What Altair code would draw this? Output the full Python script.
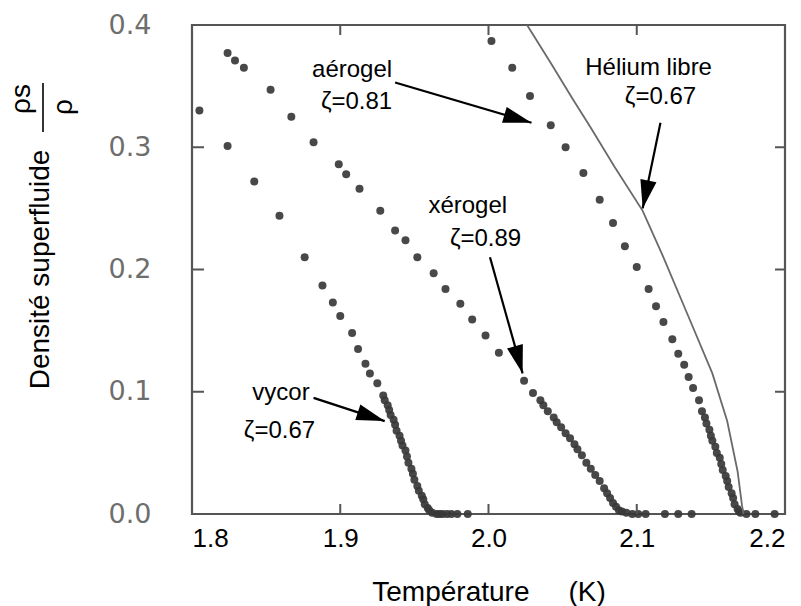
import math
import altair as alt
import pandas as pd

W, H = 593, 489
FONT = "Liberation Sans"

# ---------------- data ----------------
vycor_T = [1.805, 1.824, 1.842, 1.859, 1.876, 1.888, 1.895, 1.900, 1.908, 1.912, 1.917, 1.920, 1.925, 1.929,
           1.930, 1.932, 1.933, 1.934, 1.936, 1.937, 1.938, 1.940, 1.941, 1.942, 1.944, 1.945, 1.946, 1.948,
           1.949, 1.950, 1.952, 1.953, 1.955, 1.956, 1.957, 1.959, 1.960, 1.962,
           1.965, 1.967, 1.969, 1.972, 1.975, 1.979, 1.986]
vycor_rho = [0.330, 0.301, 0.272, 0.244, 0.210, 0.187, 0.173, 0.162, 0.148, 0.135, 0.123, 0.115, 0.107, 0.097,
             0.093, 0.089, 0.085, 0.081, 0.077, 0.073, 0.068, 0.064, 0.060, 0.056, 0.052, 0.047, 0.042, 0.037,
             0.033, 0.028, 0.023, 0.019, 0.015, 0.012, 0.008, 0.005, 0.003, 0.001,
             0.0, 0.0, 0.0, 0.0, 0.0, 0.0, 0.0]

xerogel_T = [1.824, 1.829, 1.835, 1.853, 1.867, 1.882, 1.899, 1.904, 1.913, 1.927, 1.937, 1.944, 1.952, 1.963,
             1.971, 1.981, 1.989, 1.998, 2.007, 2.024, 2.030, 2.035,
             2.037, 2.040, 2.044, 2.046, 2.049, 2.052, 2.055, 2.058, 2.060, 2.063, 2.066, 2.069, 2.072, 2.075,
             2.078, 2.080, 2.082, 2.084, 2.086, 2.088, 2.090, 2.093,
             2.097, 2.101, 2.106, 2.119, 2.128, 2.137]
xerogel_rho = [0.377, 0.371, 0.365, 0.347, 0.325, 0.304, 0.286, 0.278, 0.266, 0.248, 0.232, 0.224, 0.210, 0.197,
               0.184, 0.172, 0.159, 0.146, 0.132, 0.109, 0.099, 0.093,
               0.089, 0.084, 0.079, 0.075, 0.071, 0.066, 0.062, 0.057, 0.053, 0.048, 0.042, 0.037, 0.032, 0.027,
               0.021, 0.017, 0.013, 0.009, 0.006, 0.003, 0.002, 0.001,
               0.0, 0.0, 0.0, 0.0, 0.0, 0.0]

aerogel_T = [2.002, 2.016, 2.028, 2.042, 2.052, 2.064, 2.075, 2.084, 2.092, 2.100, 2.108, 2.113, 2.118, 2.124,
             2.128, 2.132, 2.135, 2.138, 2.142, 2.144,
             2.146, 2.147, 2.149, 2.150, 2.151, 2.153, 2.154, 2.156, 2.157, 2.158, 2.160, 2.161, 2.162, 2.164,
             2.165, 2.166, 2.168, 2.169, 2.170,
             2.174, 2.180, 2.193]
aerogel_rho = [0.387, 0.365, 0.342, 0.318, 0.300, 0.279, 0.257, 0.238, 0.219, 0.202, 0.184, 0.170, 0.157, 0.143,
               0.131, 0.122, 0.112, 0.103, 0.093, 0.084,
               0.079, 0.074, 0.069, 0.064, 0.060, 0.055, 0.050, 0.046, 0.041, 0.036, 0.031, 0.027, 0.022, 0.017,
               0.013, 0.008, 0.004, 0.002, 0.001,
               0.0, 0.0, 0.0]

helium_T = [2.026, 2.042, 2.057, 2.069, 2.085, 2.104, 2.118, 2.134, 2.151, 2.161, 2.168, 2.171, 2.172]
helium_rho = [0.400, 0.369, 0.339, 0.316, 0.284, 0.248, 0.210, 0.164, 0.115, 0.076, 0.035, 0.007, 0.0]

label_text = ["aérogel", "ζ=0.81", "Hélium libre", "ζ=0.67", "xérogel", "ζ=0.89", "vycor", "ζ=0.67"]
label_T = [1.908, 1.911, 2.108, 2.116, 1.986, 1.998, 1.860, 1.859]
label_rho = [0.363, 0.337, 0.365, 0.341, 0.252, 0.225, 0.099, 0.068]

arrow_T1 = [1.937, 2.116, 2.001, 1.882]
arrow_rho1 = [0.353, 0.320, 0.210, 0.095]
arrow_T2 = [2.029, 2.104, 2.023, 1.930]
arrow_rho2 = [0.320, 0.250, 0.115, 0.076]

x_tick_values = [1.8, 1.9, 2.0, 2.1, 2.2]
y_tick_values = [0.0, 0.1, 0.2, 0.3, 0.4]
x_inner_ticks = [1.9, 2.0, 2.1]
y_inner_ticks = [0.1, 0.2, 0.3]

X_DOM = [1.8, 2.2]
Y_DOM = [0.0, 0.4]

# ---------------- tables ----------------
pts = pd.concat([
    pd.DataFrame({"T": vycor_T, "rho": vycor_rho, "s": "vycor"}),
    pd.DataFrame({"T": xerogel_T, "rho": xerogel_rho, "s": "xérogel"}),
    pd.DataFrame({"T": aerogel_T, "rho": aerogel_rho, "s": "aérogel"}),
], ignore_index=True)
he = pd.DataFrame({"T": helium_T, "rho": helium_rho})
labels = pd.DataFrame({"T": label_T, "rho": label_rho, "t": label_text})

px_x = W / (X_DOM[1] - X_DOM[0])
px_y = H / (Y_DOM[1] - Y_DOM[0])
angles = []
for a, b, c, d in zip(arrow_T1, arrow_rho1, arrow_T2, arrow_rho2):
    dx = (c - a) * px_x
    dy = -(d - b) * px_y
    angles.append(math.degrees(math.atan2(dx, -dy)) % 360)
arrows = pd.DataFrame({"T1": arrow_T1, "r1": arrow_rho1, "T2": arrow_T2, "r2": arrow_rho2, "ang": angles})

xs = alt.Scale(domain=X_DOM, nice=False, zero=False)
ys = alt.Scale(domain=Y_DOM, nice=False, zero=False)

x_axis = alt.Axis(values=x_tick_values, format=".1f", labelFontSize=26, labelColor="black",
                  labelPadding=11, ticks=False, domain=False, grid=False,
                  title="Température\u00a0\u00a0\u00a0\u00a0\u00a0(K)", titleFontSize=28,
                  titleFontWeight="normal", titleColor="black", titleY=86,
                  titleBaseline="alphabetic")
y_axis = alt.Axis(values=y_tick_values, format=".1f", labelFontSize=27, labelColor="#6e6e6e",
                  labelFont="DejaVu Sans", labelPadding=41, ticks=False, domain=False, grid=False,
                  title="Densité superfluide", titleFontSize=28, titleFontWeight="normal",
                  titleColor="black", titleX=-152, titleY=244, titleAngle=270,
                  titleAlign="center", titleBaseline="middle")

points = alt.Chart(pts).mark_circle(size=64, color="#383838", opacity=0.92).encode(
    x=alt.X("T:Q", scale=xs, axis=x_axis),
    y=alt.Y("rho:Q", scale=ys, axis=y_axis),
)

line = alt.Chart(he).mark_line(color="#6a6a6a", strokeWidth=1.8).encode(
    x=alt.X("T:Q", scale=xs), y=alt.Y("rho:Q", scale=ys), order="T:Q"
)

shafts = alt.Chart(arrows).mark_rule(color="black", strokeWidth=2.2).encode(
    x=alt.X("T1:Q", scale=xs), y=alt.Y("r1:Q", scale=ys), x2="T2:Q", y2="r2:Q"
)
heads = alt.Chart(arrows).mark_point(
    shape="M0,0L0.58,2L-0.58,2Z", filled=True, color="black", opacity=1, size=800, strokeWidth=0
).encode(
    x=alt.X("T2:Q", scale=xs), y=alt.Y("r2:Q", scale=ys), angle=alt.Angle("ang:Q", scale=None)
)

texts = alt.Chart(labels).mark_text(font=FONT, fontSize=24, color="black", align="center",
                                    baseline="middle").encode(
    x=alt.X("T:Q", scale=xs), y=alt.Y("rho:Q", scale=ys), text="t:N"
)

# inward frame ticks
xt = pd.DataFrame({"T": x_inner_ticks})
yt = pd.DataFrame({"rho": y_inner_ticks})
tick_style = dict(color="#555555", strokeWidth=2)
tb = alt.Chart(xt).mark_rule(**tick_style).encode(x=alt.X("T:Q", scale=xs), y=alt.value(H), y2=alt.value(H - 10))
tt = alt.Chart(xt).mark_rule(**tick_style).encode(x=alt.X("T:Q", scale=xs), y=alt.value(0), y2=alt.value(10))
tl = alt.Chart(yt).mark_rule(**tick_style).encode(y=alt.Y("rho:Q", scale=ys), x=alt.value(0), x2=alt.value(12))
tr = alt.Chart(yt).mark_rule(**tick_style).encode(y=alt.Y("rho:Q", scale=ys), x=alt.value(W), x2=alt.value(W - 10))

# fraction rho_s / rho next to the y title
frac = pd.DataFrame({"t": ["ρs", "ρ"], "px": [-170, -128], "py": [74, 82]})
frac_text = alt.Chart(frac).mark_text(font=FONT, fontSize=28, color="black", angle=270,
                                      align="center", baseline="middle").encode(
    x=alt.X("px:Q", scale=None), y=alt.Y("py:Q", scale=None), text="t:N"
)
frac_bar = alt.Chart(pd.DataFrame({"k": [0]})).mark_rule(color="black", strokeWidth=1.6).encode(
    x=alt.value(-149), y=alt.value(58), y2=alt.value(107)
)

chart = alt.layer(points, line, tb, tt, tl, tr, shafts, heads, texts, frac_text, frac_bar).properties(
    width=W, height=H,
    autosize=alt.AutoSizeParams(type="none"),
    padding={"left": 192, "top": 25, "right": 16, "bottom": 92},
    background="white",
).configure(font=FONT).configure_view(stroke="#555555", strokeWidth=2.2)

chart.save("out.html", embed_options={"renderer": "svg", "actions": False})
